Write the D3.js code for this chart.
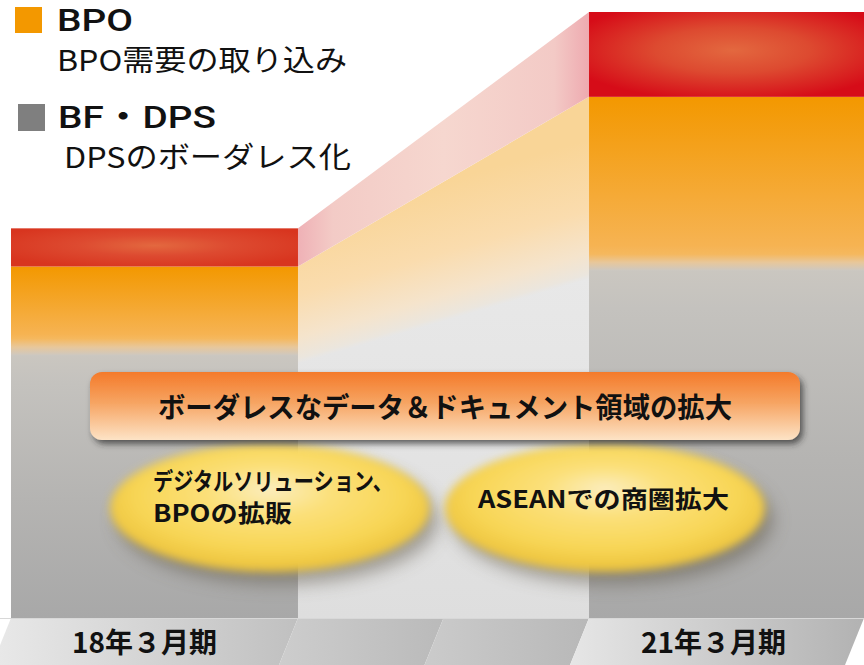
<!DOCTYPE html>
<html><head><meta charset="utf-8">
<script src="https://cdn.jsdelivr.net/npm/d3@7"></script>
<style>html,body{margin:0;padding:0;background:#fff;} svg{display:block;}</style>
</head><body>
<svg id="chart" width="864" height="665"></svg>
<script>
// ---- data ----
const categories = ["18年３月期", "21年３月期"];
const dpsValues = [44, 58];     // BF・DPS (gray)
const bpoValues = [14, 28];     // BPO (orange)
const topValues = [6.3, 14];    // top growth segment (red)
const legendNames = ["BPO", "BF・DPS"];
const legendNotes = ["BPO需要の取り込み", "DPSのボーダレス化"];
const bannerText = "ボーダレスなデータ＆ドキュメント領域の拡大";
const bubbleLeft = ["デジタルソリューション、", "BPOの拡販"];
const bubbleRight = ["ASEANでの商圏拡大"];

const W = 864, H = 665, baseY = 618, slant = 19;
const FONT = "'Noto Sans CJK JP','Noto Sans',sans-serif";
const HEAD_FONT = "Roboto,'Noto Sans CJK JP',sans-serif";
const svg = d3.select("#chart");
const defs = svg.append("defs");

const y = d3.scaleLinear().domain([0, 100]).range([baseY, 12]);
const x = d3.scaleBand().domain(categories).range([11, 876]).paddingInner(0.5035).paddingOuter(0);
const bw = x.bandwidth();

const rows = categories.map((c, i) => ({cat: c, dps: dpsValues[i], bpo: bpoValues[i], top: topValues[i]}));
const series = d3.stack().keys(["dps", "bpo", "top"])(rows);

function lin(id, stops, attrs) {
  const g = defs.append("linearGradient").attr("id", id);
  Object.entries(attrs || {x1: 0, y1: 0, x2: 0, y2: 1}).forEach(([k, v]) => g.attr(k, v));
  stops.forEach(([o, c, op]) => g.append("stop").attr("offset", o).attr("stop-color", c).attr("stop-opacity", op == null ? 1 : op));
  return "url(#" + id + ")";
}
function rad(id, stops, attrs) {
  const g = defs.append("radialGradient").attr("id", id);
  Object.entries(attrs || {}).forEach(([k, v]) => g.attr(k, v));
  stops.forEach(([o, c, op]) => g.append("stop").attr("offset", o).attr("stop-color", c).attr("stop-opacity", op == null ? 1 : op));
  return "url(#" + id + ")";
}
// filters
const f1 = defs.append("filter").attr("id", "soft").attr("x", "-20%").attr("y", "-30%").attr("width", "140%").attr("height", "160%");
f1.append("feGaussianBlur").attr("stdDeviation", 4.5);
const f2 = defs.append("filter").attr("id", "shadowBlur").attr("x", "-30%").attr("y", "-40%").attr("width", "160%").attr("height", "180%");
f2.append("feGaussianBlur").attr("stdDeviation", 9);
const f3 = defs.append("filter").attr("id", "drop").attr("x", "-5%").attr("y", "-20%").attr("width", "115%").attr("height", "150%");
f3.append("feDropShadow").attr("dx", 3).attr("dy", 4).attr("stdDeviation", 3).attr("flood-color", "#2a2a2a").attr("flood-opacity", 0.7);

// ---- connector between bars ----
const xl = x(categories[0]) + bw, xr = x(categories[1]);
const yG = [y(series[0][0][1]), y(series[0][1][1])];
const yO = [y(series[1][0][1]), y(series[1][1][1])];
const yT = [y(series[2][0][1]), y(series[2][1][1])];
const pts = a => a.map(p => p.join(",")).join(" ");

svg.append("polygon").attr("points", pts([[xl, yG[0] - 30], [xr, yG[1] - 30], [xr, baseY], [xl, baseY]]))
  .attr("fill", lin("gMid", [[0, "#e9e9e9"], [0.5, "#e4e4e4"], [1, "#dedede"]]));
{
  const cx = (xl + xr) / 2;
  const topC = (yO[0] + yO[1]) / 2, botC = (yG[0] + yG[1]) / 2;
  const dx = xr - xl, dy = yG[1] - yG[0];
  const len = Math.hypot(dx, dy);
  const n = [-dy / len, dx / len];
  const dist = (botC - topC) * n[1];
  const g = lin("gBand", [[0, "#f9d597"], [0.5, "#fadcae"], [0.8, "#f5e4cc"], [0.95, "#ebe6de"], [1, "#e7e7e7", 0]],
    {gradientUnits: "userSpaceOnUse", x1: cx, y1: topC, x2: cx + n[0] * (dist + 14), y2: topC + n[1] * (dist + 14)});
  svg.append("polygon").attr("points", pts([[xl, yO[0]], [xr, yO[1]], [xr, yG[1] + 12], [xl, yG[0] + 12]])).attr("fill", g);
}
svg.append("polygon").attr("points", pts([[xl, yT[0]], [xr, yT[1]], [xr, yO[1]], [xl, yO[0]]]))
  .attr("fill", lin("gPink", [[0, "#efb1b6"], [0.12, "#f3cbc6"], [0.5, "#f6d7cf"], [0.88, "#f3cac6"], [1, "#eeaab0"]], {x1: 0, y1: 0, x2: 1, y2: 0}));

// ---- bars ----
rows.forEach((r, i) => {
  const x0 = x(r.cat);
  const gy0 = y(series[0][i][0]), gy1 = y(series[0][i][1]);
  const oy1 = y(series[1][i][1]);
  const ty1 = y(series[2][i][1]);
  const oh = gy1 - oy1;
  svg.append("rect").attr("x", x0).attr("y", gy1).attr("width", bw).attr("height", gy0 - gy1)
    .attr("fill", lin("gGray" + i, [[0, "#cbc7c0"], [0.12, "#c4c2be"], [0.55, "#b5b4b2"], [1, "#a8a8a8"]]));
  const fz = 1 - 16 / oh;
  svg.append("rect").attr("x", x0).attr("y", oy1).attr("width", bw).attr("height", oh + 4)
    .attr("fill", lin("gOr" + i, [[0, "#f39800"], [Math.max(0.1, fz - 0.05), "#f6b352"], [fz, "#f5b85e"], [fz + (1 - fz) * 0.5, "#e8c79a"], [1, "#cdc8c1"]]));
  svg.append("rect").attr("x", x0).attr("y", ty1).attr("width", bw).attr("height", oy1 - ty1)
    .attr("fill", rad("gRed" + i, [[0, "#e3683f"], [0.45, "#dd4a30"], [1, i === 0 ? "#d8351f" : "#d60c18"]], {cx: 0.5, cy: 0.45, r: 0.6}));
});

// ---- base strip ----
const edges = [x(categories[0]), xl, (xl + xr) / 2, xr, W];
const stripFills = [
  ["#e9e9e9", "#c0c0c0"], ["#cdcdcd", "#bababa"], ["#cbcbcb", "#b8b8b8"], ["#e6e6e6", "#b2b2b2"]
];
for (let k = 0; k < 4; k++) {
  const a = edges[k], b = edges[k + 1];
  svg.append("polygon").attr("points", pts([[a, baseY], [b, baseY], [b - slant, H], [a - slant, H]]))
    .attr("fill", lin("gStrip" + k, [[0, stripFills[k][0]], [1, stripFills[k][1]]], {x1: 0, y1: 0, x2: 1, y2: 0}));
}
svg.append("line").attr("x1", 0).attr("x2", W).attr("y1", baseY + 0.5).attr("y2", baseY + 0.5).attr("stroke", "#d8d8d8").attr("stroke-width", 1);
categories.forEach((c, i) => {
  const x0 = x(c), x1 = Math.min(x0 + bw, W);
  svg.append("text").attr("x", (x0 + x1) / 2 - 10 - 3 * i).attr("y", 653).attr("text-anchor", "middle")
    .attr("font-family", FONT).attr("font-weight", 700).attr("font-size", 28).attr("fill", "#111").text(c);
});

// ---- bubbles ----
rad("gYel", [[0, "#fcedc0"], [0.35, "#fbe07a"], [0.75, "#f8d656"], [1, "#edc43e"]], {cx: 0.5, cy: 0.42, r: 0.55, fx: 0.5, fy: 0.35});
function bubble(cx, cy) {
  svg.append("ellipse").attr("cx", cx + 8).attr("cy", cy + 12).attr("rx", 160).attr("ry", 64)
    .attr("fill", "#5c5446").attr("opacity", 0.5).attr("filter", "url(#shadowBlur)");
  svg.append("ellipse").attr("cx", cx).attr("cy", cy).attr("rx", 160).attr("ry", 64)
    .attr("fill", "url(#gYel)").attr("filter", "url(#soft)");
}
bubble(270, 508);
bubble(605, 508);
const bt = (t, xx, yy, len) => svg.append("text").attr("x", xx).attr("y", yy).attr("font-family", FONT).attr("font-weight", 700)
  .attr("font-size", 24).attr("fill", "#111").attr("textLength", len).attr("lengthAdjust", "spacingAndGlyphs").text(t);
bt(bubbleLeft[0], 153, 490, 240);
bt(bubbleLeft[1], 153, 522, 139);
bt(bubbleRight[0], 478, 508, 251);

// ---- banner ----
svg.append("rect").attr("x", 90).attr("y", 372).attr("width", 710).attr("height", 68).attr("rx", 12)
  .attr("fill", lin("gBanner", [[0, "#f47a2a"], [0.45, "#f6a462"], [1, "#fde3c6"]])).attr("filter", "url(#drop)");
svg.append("text").attr("x", 445).attr("y", 418).attr("text-anchor", "middle").attr("font-family", FONT)
  .attr("font-weight", 700).attr("font-size", 28).attr("fill", "#111")
  .attr("textLength", 574).attr("lengthAdjust", "spacingAndGlyphs").text(bannerText);

// ---- legend ----
svg.append("rect").attr("x", 15).attr("y", 7).attr("width", 27).attr("height", 26).attr("fill", "#f39800");
svg.append("rect").attr("x", 18).attr("y", 104).attr("width", 27).attr("height", 27).attr("fill", "#7f7f7f");
const lt = (t, xx, yy, size, wt, len, fam) => svg.append("text").attr("x", xx).attr("y", yy).attr("font-family", fam || FONT)
  .attr("font-size", size).attr("font-weight", wt).attr("fill", "#111")
  .attr("textLength", len).attr("lengthAdjust", "spacingAndGlyphs").text(t);
lt(legendNames[0], 57, 31, 32, 500, 76, HEAD_FONT);
lt(legendNotes[0], 57, 71, 29, 400, 290);
lt(legendNames[1], 58, 128, 32, 500, 158, HEAD_FONT);
lt(legendNotes[1], 64, 168, 29, 400, 287);
</script>
</body></html>
